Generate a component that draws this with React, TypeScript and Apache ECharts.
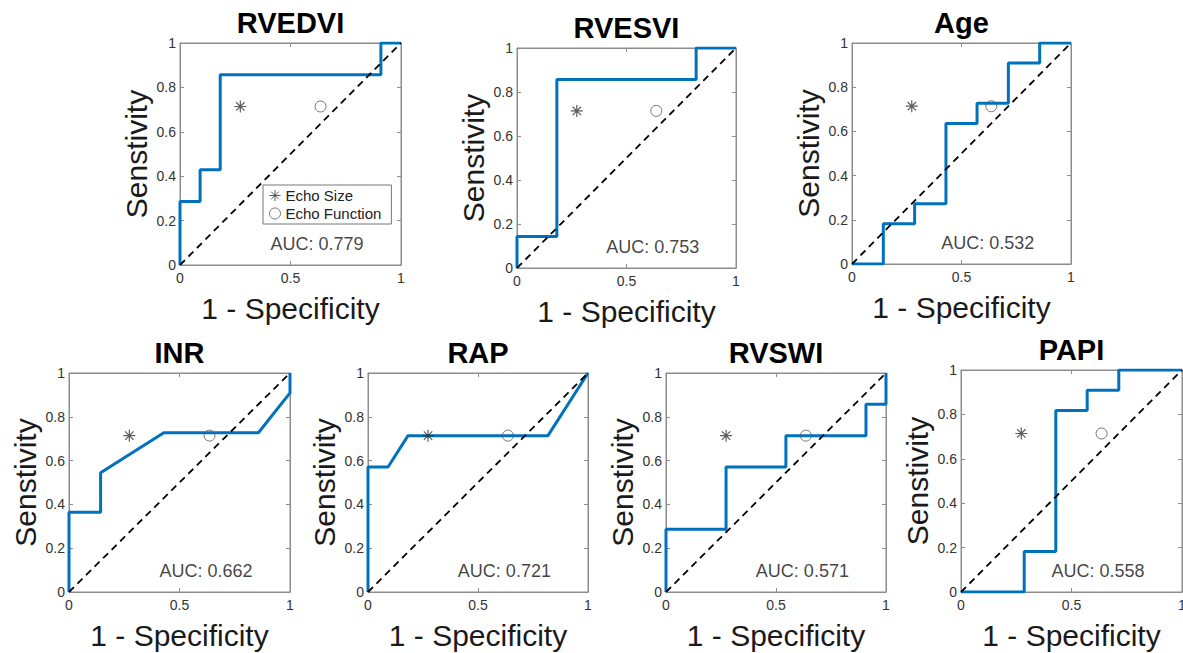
import React, { useEffect, useRef } from 'react';
import * as echarts from 'echarts';

// ---------- data ----------
const titles = ['RVEDVI', 'RVESVI', 'Age', 'INR', 'RAP', 'RVSWI', 'PAPI'];

const rocRVEDVI = [[0, 0], [0, 0.286], [0.091, 0.286], [0.091, 0.429], [0.182, 0.429], [0.182, 0.857], [0.909, 0.857], [0.909, 1], [1, 1]];
const rocRVESVI = [[0, 0], [0, 0.143], [0.182, 0.143], [0.182, 0.857], [0.818, 0.857], [0.818, 1], [1, 1]];
const rocAge = [[0, 0], [0.143, 0], [0.143, 0.182], [0.286, 0.182], [0.286, 0.273], [0.429, 0.273], [0.429, 0.636], [0.571, 0.636], [0.571, 0.727], [0.714, 0.727], [0.714, 0.909], [0.857, 0.909], [0.857, 1], [1, 1]];
const rocINR = [[0, 0], [0, 0.364], [0.143, 0.364], [0.143, 0.545], [0.429, 0.727], [0.857, 0.727], [1, 0.909], [1, 1]];
const rocRAP = [[0, 0], [0, 0.571], [0.091, 0.571], [0.182, 0.714], [0.818, 0.714], [1, 1]];
const rocRVSWI = [[0, 0], [0, 0.286], [0.273, 0.286], [0.273, 0.571], [0.545, 0.571], [0.545, 0.714], [0.909, 0.714], [0.909, 0.857], [1, 0.857], [1, 1]];
const rocPAPI = [[0, 0], [0.286, 0], [0.286, 0.182], [0.429, 0.182], [0.429, 0.818], [0.571, 0.818], [0.571, 0.909], [0.714, 0.909], [0.714, 1], [1, 1]];

const rocCurves = [rocRVEDVI, rocRVESVI, rocAge, rocINR, rocRAP, rocRVSWI, rocPAPI];
const aucValues = ['0.779', '0.753', '0.532', '0.662', '0.721', '0.571', '0.558'];
const chanceLine = [[0, 0], [1, 1]];
const echoSizePoint = [0.273, 0.714];
const echoFunctionPoint = [0.636, 0.714];
const legendNames = ['Echo Size', 'Echo Function'];
const xTickInterval = 0.5;
const yTickInterval = 0.2;

// ---------- layout / style ----------
const boxes = [
  [180, 43, 221, 222],
  [517, 48, 219, 220],
  [852, 43, 219, 221],
  [69, 373, 221, 219],
  [368, 373, 220, 219],
  [666, 373, 220, 219],
  [961, 370, 221, 222],
];
const aucAnchor = [0.62, 0.095];
const FONT = '"Liberation Sans", Arial, Helvetica, sans-serif';
const AX = '#8c8c8c';
const ASTERISK = 'path://M5,0L5,10M0,5L10,5M1.5,1.5L8.5,8.5M1.5,8.5L8.5,1.5';

export default function App() {
  const ref = useRef<HTMLDivElement>(null);

  useEffect(() => {
    const chart = echarts.init(ref.current!, null, { renderer: 'svg' });
    const grid: any[] = [];
    const xAxis: any[] = [];
    const yAxis: any[] = [];
    const series: any[] = [];

    boxes.forEach(([l, t, w, h], i) => {
      grid.push({
        left: l, top: t, width: w, height: h,
        show: true, borderColor: AX, borderWidth: 1, backgroundColor: '#fff',
        containLabel: false, outerBoundsMode: 'none',
      });
      const axisLine = { show: true, onZero: false, lineStyle: { color: AX, width: 1 } };
      const axisTick = { show: true, inside: true, length: 4, lineStyle: { color: AX, width: 1 } };
      const tickLabel = { color: '#333', fontSize: 14, fontFamily: FONT };
      xAxis.push({
        gridIndex: i, type: 'value', position: 'bottom', min: 0, max: 1, interval: xTickInterval,
        axisLine, axisTick, splitLine: { show: false },
        axisLabel: { ...tickLabel, margin: 6 },
        name: '1 - Specificity', nameLocation: 'middle', nameGap: 28,
        nameTextStyle: { fontSize: 30, color: '#1a1a1a', fontFamily: FONT },
      });
      xAxis.push({
        gridIndex: i, type: 'value', position: 'top', min: 0, max: 1, interval: xTickInterval,
        axisLine, axisTick, splitLine: { show: false }, axisLabel: { show: false },
        name: titles[i], nameLocation: 'middle', nameGap: 6,
        nameTextStyle: { fontSize: 29, fontWeight: 'bold', color: '#000', fontFamily: FONT },
      });
      yAxis.push({
        gridIndex: i, type: 'value', position: 'left', min: 0, max: 1, interval: yTickInterval,
        axisLine, axisTick, splitLine: { show: false },
        axisLabel: { ...tickLabel, margin: 4 },
        name: 'Senstivity', nameLocation: 'middle', nameGap: 29,
        nameTextStyle: { fontSize: 30, color: '#1a1a1a', fontFamily: FONT },
      });
      yAxis.push({
        gridIndex: i, type: 'value', position: 'right', min: 0, max: 1, interval: yTickInterval,
        axisLine, axisTick, splitLine: { show: false }, axisLabel: { show: false },
      });
      const xi = 2 * i;
      const yi = 2 * i;
      series.push({
        type: 'line', xAxisIndex: xi, yAxisIndex: yi, data: rocCurves[i],
        symbol: 'none', silent: true, z: 2,
        lineStyle: { color: '#0072BD', width: 3 },
      });
      series.push({
        type: 'line', xAxisIndex: xi, yAxisIndex: yi, data: chanceLine,
        symbol: 'none', silent: true, z: 3,
        lineStyle: { color: '#000', width: 1.8, type: [7, 5] },
      });
      series.push({
        type: 'scatter', name: legendNames[0], xAxisIndex: xi, yAxisIndex: yi, data: [echoSizePoint],
        symbol: ASTERISK, symbolSize: 12, z: 4, silent: true,
        itemStyle: { color: '#333', borderColor: '#333', borderWidth: 1.2 },
      });
      series.push({
        type: 'scatter', name: legendNames[1], xAxisIndex: xi, yAxisIndex: yi, data: [echoFunctionPoint],
        symbol: 'circle', symbolSize: 11, z: 4, silent: true,
        itemStyle: { color: 'rgba(0,0,0,0)', borderColor: '#555', borderWidth: 1 },
      });
      series.push({
        type: 'scatter', xAxisIndex: xi, yAxisIndex: yi, data: [aucAnchor],
        symbolSize: 0, z: 5, silent: true,
        label: {
          show: true, position: 'inside', formatter: 'AUC: ' + aucValues[i],
          fontSize: 18, color: '#111', fontFamily: FONT,
        },
      });
    });

    chart.setOption({
      animation: false,
      backgroundColor: '#fff',
      grid, xAxis, yAxis, series,
      legend: {
        data: legendNames, orient: 'vertical', left: 263, top: 185,
        padding: [3, 10, 3, 6], itemGap: 3, itemWidth: 11, itemHeight: 11,
        borderColor: '#777', borderWidth: 1, backgroundColor: '#fff',
        selectedMode: false, z: 10,
        itemStyle: { borderWidth: 1 },
        textStyle: { fontSize: 15, color: '#222', fontFamily: FONT },
      },
    });
    return () => chart.dispose();
  }, []);

  return (
    <div
      ref={ref}
      style={{ position: 'fixed', left: 0, top: 0, width: 1183, height: 653, background: '#fff' }}
    />
  );
}
